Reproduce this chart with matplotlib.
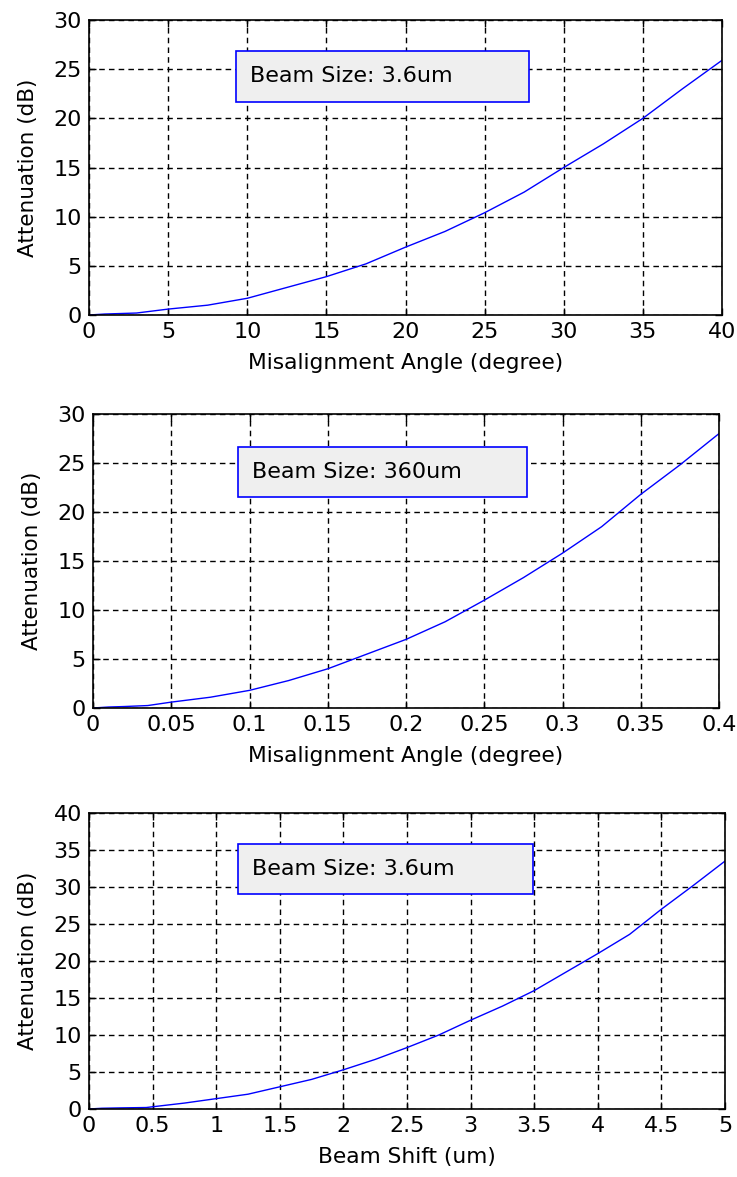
import matplotlib.pyplot as plt
import numpy as np

# Panel 1: attenuation vs misalignment angle, beam size 3.6um
angle_a = [0, 1, 2, 3, 3.5, 5, 7.5, 10, 12.5, 15, 17.5, 20, 22.5, 25, 27.5, 30, 32.5, 35, 37.5, 40]
atten_a = [0, 0.1, 0.15, 0.2, 0.3, 0.6, 1.0, 1.7, 2.8, 3.9, 5.2, 6.9, 8.5, 10.4, 12.5, 15.0, 17.4, 20.0, 23.0, 25.9]

# Panel 2: attenuation vs misalignment angle, beam size 360um
angle_b = [0, 0.01, 0.02, 0.035, 0.05, 0.075, 0.1, 0.125, 0.15, 0.175, 0.2, 0.225, 0.25, 0.275, 0.3, 0.325, 0.35, 0.375, 0.4]
atten_b = [0, 0.1, 0.15, 0.25, 0.6, 1.1, 1.8, 2.8, 4.0, 5.5, 7.0, 8.8, 11.0, 13.3, 15.8, 18.5, 21.8, 24.8, 28.0]

# Panel 3: attenuation vs beam shift, beam size 3.6um
shift_c = [0, 0.1, 0.25, 0.45, 0.5, 0.75, 1.0, 1.25, 1.5, 1.75, 2.0, 2.25, 2.5, 2.75, 3.0, 3.25, 3.5, 3.75, 4.0, 4.25, 4.5, 4.75, 5.0]
atten_c = [0, 0.1, 0.15, 0.2, 0.3, 0.8, 1.4, 2.0, 3.0, 4.0, 5.3, 6.7, 8.3, 10.0, 12.0, 13.9, 16.0, 18.5, 21.0, 23.6, 27.0, 30.2, 33.5]

xticks_a = [0, 5, 10, 15, 20, 25, 30, 35, 40]
xticks_b = [0, 0.05, 0.1, 0.15, 0.2, 0.25, 0.3, 0.35, 0.4]
xticks_c = [0, 0.5, 1, 1.5, 2, 2.5, 3, 3.5, 4, 4.5, 5]
yticks_ab = [0, 5, 10, 15, 20, 25, 30]
yticks_c = [0, 5, 10, 15, 20, 25, 30, 35, 40]

plt.rcParams['font.family'] = ['DejaVu Sans']
fig = plt.figure(figsize=(7.37, 11.77), dpi=100)
W, H = 737, 1177

def make_axes(left, top, right, bottom):
    return fig.add_axes([left / W, 1 - bottom / H, (right - left) / W, (bottom - top) / H])

panels = [
    (make_axes(89, 20, 722, 315), angle_a, atten_a, xticks_a, yticks_ab,
     ['0', '5', '10', '15', '20', '25', '30', '35', '40'],
     'Misalignment Angle (degree)', 'Beam Size: 3.6um', (236, 51, 529, 102)),
    (make_axes(93, 414, 719, 708), angle_b, atten_b, xticks_b, yticks_ab,
     ['0', '0.05', '0.1', '0.15', '0.2', '0.25', '0.3', '0.35', '0.4'],
     'Misalignment Angle (degree)', 'Beam Size: 360um', (238, 447, 527, 497)),
    (make_axes(89, 813, 725, 1109), shift_c, atten_c, xticks_c, yticks_c,
     ['0', '0.5', '1', '1.5', '2', '2.5', '3', '3.5', '4', '4.5', '5'],
     'Beam Shift (um)', 'Beam Size: 3.6um', (238, 844, 533, 894)),
]

for ax, x, y, xt, yt, xtl, xlabel, note, box in panels:
    ax.plot(x, y, color='#0000ff', lw=1.0)
    ax.set_xlim(xt[0], xt[-1])
    ax.set_ylim(yt[0], yt[-1])
    ax.set_xticks(xt)
    ax.set_xticklabels(xtl)
    ax.set_yticks(yt)
    ax.grid(True, color='black', linestyle=(0, (4, 3)), linewidth=1.0)
    ax.tick_params(direction='in', length=5, width=1, top=True, right=True,
                   labelsize=16, pad=5)
    for s in ax.spines.values():
        s.set_linewidth(1.2)
    ax.set_xlabel(xlabel, fontsize=15.7, labelpad=8)
    ax.set_ylabel('Attenuation (dB)', fontsize=15.5, labelpad=11)
    # annotation box, placed in figure pixels
    bl, bt, br, bb = box
    fig.patches.append(plt.Rectangle((bl / W, 1 - bb / H), (br - bl) / W, (bb - bt) / H,
                                     transform=fig.transFigure, facecolor='#efefef',
                                     edgecolor='#0000ff', lw=1.2, zorder=5))
    fig.text((bl + 14) / W, 1 - (bt + bb) / 2 / H, note, fontsize=16,
             va='center', ha='left', zorder=6)

fig.savefig('out.png', dpi=100)
